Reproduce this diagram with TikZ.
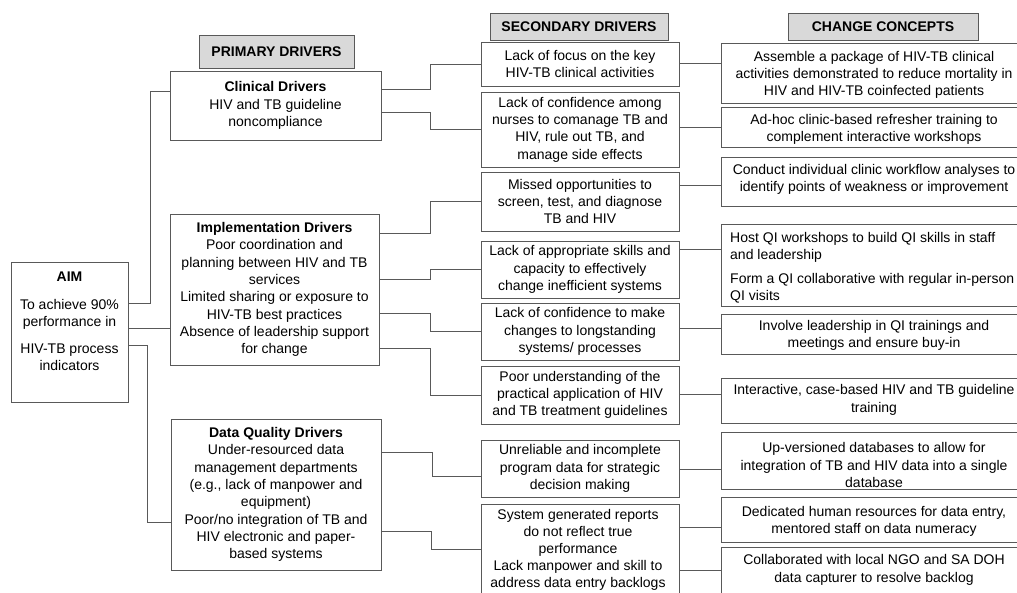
\documentclass[tikz,border=0pt]{standalone}
\usepackage{fontspec}
\setmainfont{Liberation Sans}
\usetikzlibrary{fit}
\newcommand\dfont{\fontsize{14}{17.3}\selectfont}
\begin{document}
\begin{tikzpicture}[x=1pt,y=-1pt,
  conn/.style={draw=black!65, line width=0.8pt},
  box/.style={draw=black!65, line width=0.8pt, rectangle, inner sep=0pt},
  txt/.style={align=center, font=\dfont, inner sep=0pt, text=black},
  hdr/.style={box, txt, fill=black!15, font=\dfont\bfseries},
  sz/.style 2 args={minimum width=#1pt, minimum height=#2pt},
]
\useasboundingbox (0,0) rectangle (1017,592);
% headers
\node[hdr, sz={155}{33}] (hp) at (276.5,51.5) {PRIMARY DRIVERS};
\node[hdr, sz={178}{27}] (hs) at (579,26.5) {SECONDARY DRIVERS};
\node[hdr, sz={190}{27}] (hc) at (883,26.5) {CHANGE CONCEPTS};
% aim
\node[box, fit={(11,262)(128,402)}] (aim) {};
\node[txt] (aimt) at (69.5,321.5) {\textbf{AIM}\\[10.5pt]To achieve 90\%\\performance in\\[9.5pt]HIV-TB process\\indicators};
% primary
\node[box, txt, sz={211}{69}] (clin) at (275.5,105.5) {\textbf{Clinical Drivers}\\HIV and TB guideline\\noncompliance};
\node[box, txt, sz={209}{151}] (impl) at (274.5,289.5) {\textbf{Implementation Drivers}\\Poor coordination and\\planning between HIV and TB\\services\\Limited sharing or exposure to\\HIV-TB best practices\\Absence of leadership support\\for change};
\node[box, txt, sz={210}{151}] (data) at (276,494.5) {\textbf{Data Quality Drivers}\\Under-resourced data\\management departments\\(e.g., lack of manpower and\\equipment)\\Poor/no integration of TB and\\HIV electronic and paper-\\based systems};
% secondary
\node[box, txt, sz={198}{44}] (s1) at (580,64) {Lack of focus on the key\\HIV-TB clinical activities};
\node[box, txt, sz={198}{75}] (s2) at (580,129.5) {Lack of confidence among\\nurses to comanage TB and\\HIV, rule out TB, and\\manage side effects};
\node[box, txt, sz={198}{59}] (s3) at (580,201.5) {Missed opportunities to\\screen, test, and diagnose\\TB and HIV};
\node[box, txt, sz={198}{57}] (s4) at (580,269.5) {Lack of appropriate skills and\\capacity to effectively\\change inefficient systems};
\node[box, txt, sz={198}{57}] (s5) at (580,331.5) {Lack of confidence to make\\changes to longstanding\\systems/ processes};
\node[box, txt, sz={198}{58}] (s6) at (580,395) {Poor understanding of the\\practical application of HIV\\and TB treatment guidelines};
\node[box, txt, sz={198}{57}] (s7) at (580,468.5) {Unreliable and incomplete\\program data for strategic\\decision making};
\node[box, sz={198}{98}] (s8) at (580,553) {};
\node[txt, font=\fontsize{14}{17}\selectfont] (s8t) at (578,549.5) {System generated reports\\do not reflect true\\performance\\Lack manpower and skill to\\address data entry backlogs};
% change concepts (frames)
\node[box, fit={(721.5,43)(1030,103)}] (c1) {};
\node[box, fit={(721.5,107)(1030,147)}] (c2) {};
\node[box, fit={(721.5,157)(1030,206)}] (c3) {};
\node[box, fit={(721.5,224)(1030,306)}] (c4) {};
\node[box, fit={(721.5,314)(1030,354)}] (c5) {};
\node[box, fit={(721.5,378)(1030,423)}] (c6) {};
\node[box, fit={(721.5,432)(1030,489)}] (c7) {};
\node[box, fit={(721.5,497)(1030,542)}] (c8) {};
\node[box, fit={(721.5,547)(1030,600)}] (c9) {};
% change concepts (texts)
\node[txt] (c1t) at (874,75) {Assemble a package of HIV-TB clinical\\activities demonstrated to reduce mortality in\\HIV and HIV-TB coinfected patients};
\node[txt] (c2t) at (874,129.5) {Ad-hoc clinic-based refresher training to\\complement interactive workshops};
\node[txt] (c3t) at (874,179.5) {Conduct individual clinic workflow analyses to\\identify points of weakness or improvement};
\node[txt, align=left, anchor=west] (c4t) at (730,268) {Host QI workshops to build QI skills in staff\\and leadership\\[6.5pt]Form a QI collaborative with regular in-person\\QI visits};
\node[txt] (c5t) at (874,335.5) {Involve leadership in QI trainings and\\meetings and ensure buy-in};
\node[txt] (c6t) at (874,400) {Interactive, case-based HIV and TB guideline\\training};
\node[txt] (c7t) at (874,465) {Up-versioned databases to allow for\\integration of TB and HIV data into a single\\database};
\node[txt] (c8t) at (874,521.5) {Dedicated human resources for data entry,\\mentored staff on data numeracy};
\node[txt] (c9t) at (874,570) {Collaborated with local NGO and SA DOH\\data capturer to resolve backlog};
% connectors aim -> primary
\draw[conn] (aim.east |- 0,303) -- (150,303) |- (clin.west |- 0,91);
\draw[conn] (aim.east |- 0,328) -- (impl.west |- 0,328);
\draw[conn] (aim.east |- 0,345) -- (147,345) |- (data.west |- 0,522);
% primary -> secondary
\draw[conn] (clin.east |- 0,89) -- (430,89) |- (s1.west);
\draw[conn] (clin.east |- 0,112) -- (430,112) |- (s2.west);
\draw[conn] (impl.east |- 0,233) -- (430,233) |- (s3.west);
\draw[conn] (impl.east |- 0,279) -- (430,279) |- (s4.west);
\draw[conn] (impl.east |- 0,313) -- (430,313) |- (s5.west);
\draw[conn] (impl.east |- 0,348) -- (430,348) |- (s6.west);
\draw[conn] (data.east |- 0,452) -- (432,452) |- (s7.west |- 0,476);
\draw[conn] (data.east |- 0,531) -- (431,531) |- (s8.west |- 0,549);
% secondary -> change
\draw[conn] (s1.east |- 0,63) -- (c1.west |- 0,63);
\draw[conn] (s2.east |- 0,127) -- (c2.west |- 0,127);
\draw[conn] (s3.east |- 0,185) -- (c3.west |- 0,185);
\draw[conn] (s4.east |- 0,249) -- (c4.west |- 0,249);
\draw[conn] (s5.east |- 0,328) -- (c5.west |- 0,328);
\draw[conn] (s6.east |- 0,394) -- (c6.west |- 0,394);
\draw[conn] (s7.east |- 0,469) -- (c7.west |- 0,469);
\draw[conn] (s8.east |- 0,527) -- (c8.west |- 0,527);
\draw[conn] (s8.east |- 0,570) -- (c9.west |- 0,570);
\end{tikzpicture}
\end{document}
